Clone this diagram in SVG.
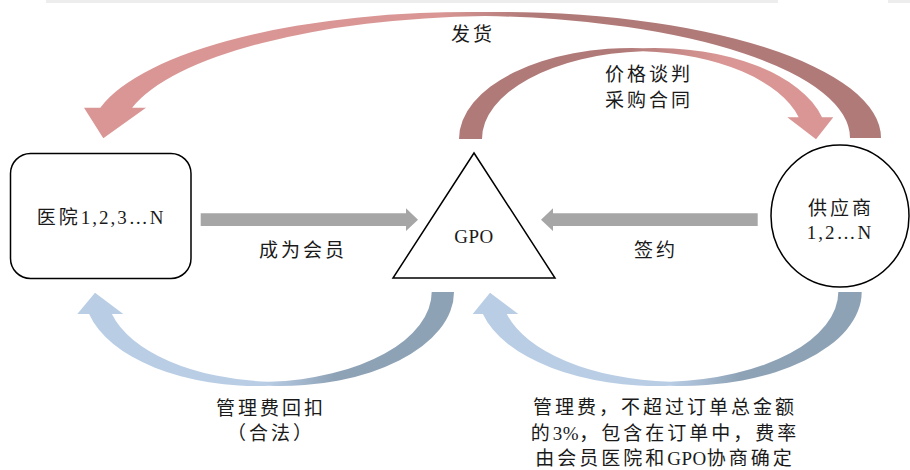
<svg xmlns="http://www.w3.org/2000/svg" width="910" height="470" viewBox="0 0 910 470">
  <style>
    .node { fill: #ffffff; stroke: #000000; stroke-width: 1.5; }
    .t { font-family: "Liberation Serif", "Noto Sans CJK SC", serif; font-size: 19px; fill: #1a1a1a; text-anchor: middle; letter-spacing: 3px; }
    .lat { letter-spacing: 2px; }
    .gp { letter-spacing: 0.5px; }
    .gray { fill: #a6a6a6; }
  </style>
  <defs>
    <linearGradient id="gTopOuter" gradientUnits="userSpaceOnUse" x1="440" y1="0" x2="530" y2="0">
      <stop offset="0" stop-color="#d99694"/>
      <stop offset="1" stop-color="#b07a78"/>
    </linearGradient>
    <linearGradient id="gTopInner" gradientUnits="userSpaceOnUse" x1="620" y1="0" x2="720" y2="0">
      <stop offset="0" stop-color="#b07a78"/>
      <stop offset="1" stop-color="#d99694"/>
    </linearGradient>
    <linearGradient id="gBotLeft" gradientUnits="userSpaceOnUse" x1="265" y1="0" x2="335" y2="0">
      <stop offset="0" stop-color="#b9cde5"/>
      <stop offset="1" stop-color="#8ea2b6"/>
    </linearGradient>
    <linearGradient id="gBotRight" gradientUnits="userSpaceOnUse" x1="670" y1="0" x2="740" y2="0">
      <stop offset="0" stop-color="#b9cde5"/>
      <stop offset="1" stop-color="#8ea2b6"/>
    </linearGradient>
  </defs>

  <rect x="0" y="0" width="910" height="470" fill="#ffffff"/>
  <rect x="46" y="0" width="732" height="3" fill="#ededed"/>
  <rect x="888" y="0" width="22" height="3" fill="#ededed"/>

  <g id="connectors">
    <!-- 发货: supplier -> hospitals -->
    <path id="arrow-deliver" fill="url(#gTopOuter)" d="M 881,138 A 380.4 126 0 0 0 485,12.1 A 380.4 126 0 0 0 100.3,107.7 L 84,107.7 L 103.3,138.3 L 146,107.7 L 132.1,107.7 A 380.4 122 0 0 1 485,16.1 A 380.4 122 0 0 1 850,138 Z"/>
    <!-- 价格谈判 采购合同: GPO -> supplier -->
    <path id="arrow-negotiate" fill="url(#gTopInner)" d="M 459,139 A 172.5 91 0 0 1 643,48.2 A 172.5 91 0 0 1 822,117.3 L 833.3,117.3 L 816,139.3 L 787.3,117.3 L 798.7,117.3 A 172.5 88 0 0 0 643,51.2 A 172.5 88 0 0 0 482,139 Z"/>
    <!-- 成为会员 -->
    <path id="arrow-member" class="gray" d="M 200.7,213.3 L 406,213.3 L 406,208.3 L 418,219.7 L 406,231 L 406,226 L 200.7,226 Z"/>
    <!-- 签约 -->
    <path id="arrow-sign" class="gray" d="M 757.7,213.3 L 553,213.3 L 553,208.3 L 541,219.7 L 553,231 L 553,226 L 757.7,226 Z"/>
    <!-- 管理费回扣: GPO -> hospitals -->
    <path id="arrow-rebate" fill="url(#gBotLeft)" d="M 454,292 A 173.7 94 0 0 1 269.2,385.8 A 173.7 94 0 0 1 89.1,314 L 77.3,314 L 95,292.7 L 123.3,314 L 111.9,314 A 173.7 90 0 0 0 269.2,381.8 A 173.7 90 0 0 0 431.7,292 Z"/>
    <!-- 管理费: supplier -> GPO -->
    <path id="arrow-fee" fill="url(#gBotRight)" d="M 861.7,292 A 180.2 94 0 0 1 669.8,385.8 A 180.2 94 0 0 1 482.9,314 L 472.7,314 L 490,292.7 L 518.3,314 L 506.8,314 A 180.2 90 0 0 0 669.8,381.8 A 180.2 90 0 0 0 838.3,292 Z"/>
  </g>

  <g id="hospital">
    <rect class="node" x="10.5" y="153.5" width="180.5" height="125" rx="20" ry="20"/>
    <text class="t" x="101" y="224">医院<tspan class="lat">1,2,3…N</tspan></text>
  </g>

  <g id="gpo">
    <polygon class="node" points="474,153 393,278 555,278"/>
    <text class="t gp" x="474" y="243">GPO</text>
  </g>

  <g id="supplier">
    <ellipse class="node" cx="840" cy="216" rx="69" ry="71"/>
    <text class="t" x="841" y="215">供应商</text>
    <text class="t lat" x="840" y="239">1,2…N</text>
  </g>

  <g id="labels">
    <text class="t" x="473" y="41">发货</text>
    <text class="t" x="649" y="81">价格谈判</text>
    <text class="t" x="649" y="107">采购合同</text>
    <text class="t" x="303" y="257">成为会员</text>
    <text class="t" x="656" y="257">签约</text>
    <text class="t" x="271" y="415">管理费回扣</text>
    <text class="t" x="271" y="440">（合法）</text>
    <text class="t" x="665" y="414">管理费，不超过订单总金额</text>
    <text class="t" x="665" y="440">的<tspan class="gp">3%</tspan>，包含在订单中，费率</text>
    <text class="t" x="665" y="465">由会员医院和<tspan class="gp">GPO</tspan>协商确定</text>
  </g>
</svg>
